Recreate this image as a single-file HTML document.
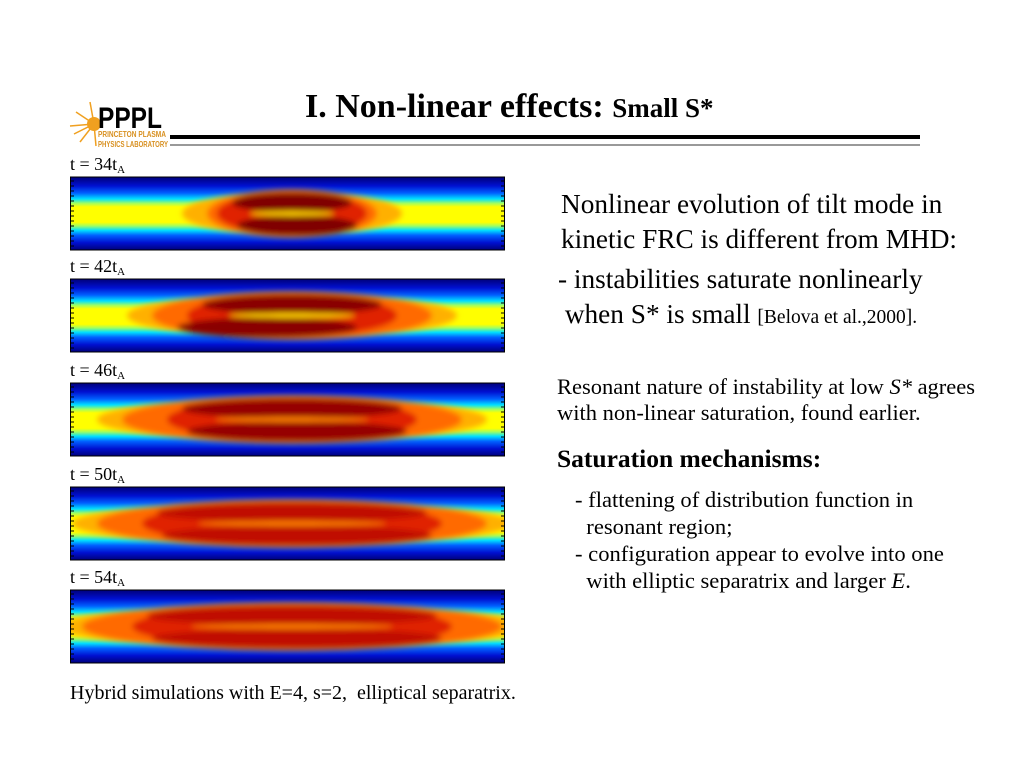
<!DOCTYPE html>
<html><head><meta charset="utf-8"><style>
body{margin:0;width:1024px;height:768px;background:#fff;overflow:hidden;position:relative;font-family:"Liberation Serif",serif;color:#000}
.t{position:absolute;white-space:nowrap}
</style></head><body>
<div class="t" style="left:68px;top:98px;width:102px;height:52px">
<svg width="102" height="52">
<g stroke="#f0a020" stroke-width="1.5"><line x1="26" y1="26" x2="2" y2="28"/><line x1="26" y1="26" x2="8" y2="14"/><line x1="26" y1="26" x2="12" y2="44"/><line x1="26" y1="26" x2="22" y2="4"/><line x1="26" y1="26" x2="28" y2="48"/><line x1="26" y1="26" x2="6" y2="36"/></g>
<circle cx="26" cy="26" r="7" fill="#f0a020"/>
<text x="30" y="30" font-family="Liberation Sans" font-weight="bold" font-size="30" fill="#000" textLength="64" lengthAdjust="spacingAndGlyphs">PPPL</text>
<text x="30" y="39" font-family="Liberation Sans" font-weight="bold" font-size="8" fill="#d89020" textLength="68" lengthAdjust="spacingAndGlyphs">PRINCETON PLASMA</text>
<text x="30" y="49" font-family="Liberation Sans" font-weight="bold" font-size="8" fill="#d89020" textLength="70" lengthAdjust="spacingAndGlyphs">PHYSICS LABORATORY</text>
</svg></div>
<div class="t" style="left:305px;top:88px;font-size:34px;font-weight:bold">I. Non-linear effects: <span style="font-size:27px">Small S*</span></div>
<div style="position:absolute;left:170px;top:135px;width:750px;height:4px;background:#000"></div>
<div style="position:absolute;left:170px;top:144px;width:750px;height:2px;background:#999"></div>

<svg id="plots" width="1024" height="768" style="position:absolute;left:0;top:0">
<defs>
<linearGradient id="bg" x1="0" y1="0" x2="0" y2="1">
<stop offset="0" stop-color="#00007a"/><stop offset="0.12" stop-color="#0010d0"/><stop offset="0.22" stop-color="#0060ff"/><stop offset="0.3" stop-color="#00e0ff"/><stop offset="0.36" stop-color="#a0ff60"/><stop offset="0.41" stop-color="#ffff00"/><stop offset="0.62" stop-color="#ffff00"/><stop offset="0.67" stop-color="#a0ff60"/><stop offset="0.73" stop-color="#00e0ff"/><stop offset="0.8" stop-color="#0060ff"/><stop offset="0.9" stop-color="#0010d0"/><stop offset="1" stop-color="#00007a"/>
</linearGradient>
<filter id="bl" x="-20%" y="-50%" width="140%" height="200%"><feGaussianBlur stdDeviation="3"/></filter>
<clipPath id="pc"><rect x="70" y="0" width="435" height="768"/></clipPath>
</defs>
</svg>

<div class="t" style="left:561px;top:187px;font-size:27.3px;line-height:35px">Nonlinear evolution of tilt mode in<br>kinetic FRC is different from MHD:</div>
<div class="t" style="left:558px;top:262px;font-size:27.3px;line-height:35px">- instabilities saturate nonlinearly<br>&nbsp;when S* is small <span style="font-size:19.5px">[Belova et al.,2000].</span></div>
<div class="t" style="left:557px;top:374px;font-size:22.5px;line-height:26px">Resonant nature of instability at low <i>S*</i> agrees<br>with non-linear saturation, found earlier.</div>
<div class="t" style="left:557px;top:444px;font-size:25.5px;font-weight:bold">Saturation mechanisms:</div>
<div class="t" style="left:575px;top:486px;font-size:22.6px;line-height:27px">- flattening of distribution function in<br>&nbsp;&nbsp;resonant region;<br>- configuration appear to evolve into one<br>&nbsp;&nbsp;with elliptic separatrix and larger <i>E</i>.</div>
<div class="t" style="left:70px;top:682px;font-size:20px">Hybrid simulations with E=4, s=2,&nbsp; elliptical separatrix.</div>

<script>
const times = [34, 42, 46, 50, 54];
const panelTops = [177, 279, 383, 487, 590];
// plasma core half-width (px) per panel
const coreWidths = [85, 140, 170, 195, 210];
// red lobe half-width per panel
const lobeWidths = [60, 90, 110, 135, 145];
// lobe darkness per panel
const lobeColors = ['#800000', '#8a0000', '#960000', '#c01000', '#c01000'];
const ns = 'http://www.w3.org/2000/svg';
const svg = document.getElementById('plots');
const X0 = 70, W = 435, H = 73;
function mk(tag, attrs, parent){const e=document.createElementNS(ns,tag);for(const k in attrs)e.setAttribute(k,attrs[k]);(parent||svg).appendChild(e);return e;}
times.forEach((t,i)=>{
  const y = panelTops[i];
  const g = mk('g',{'clip-path':'url(#pc)'});
  
  
  mk('rect',{x:X0,y:y,width:W,height:H,fill:'url(#bg)'},g);
  const cx = X0 + 222, cy = y + H/2;
  const f = mk('g',{filter:'url(#bl)'},g);
  mk('ellipse',{cx:cx,cy:cy,rx:coreWidths[i]+25,ry:22,fill:'#ffb000'},f);
  mk('ellipse',{cx:cx,cy:cy,rx:coreWidths[i],ry:24,fill:'#ff6a00'},f);
  mk('ellipse',{cx:cx,cy:cy,rx:lobeWidths[i]+15,ry:21,fill:'#e02000'},f);
  mk('ellipse',{cx:cx,cy:cy-11,rx:lobeWidths[i],ry:10,fill:lobeColors[i]},f);
  mk('ellipse',{cx:cx+(i==1?-25:5),cy:cy+12,rx:lobeWidths[i],ry:10,fill:lobeColors[i]},f);
  mk('ellipse',{cx:cx,cy:cy,rx:lobeWidths[i]*0.7,ry:2.5,fill:i<2?'#ffd000':'#ff8000'},f);
  mk('rect',{x:X0+0.5,y:y,width:W-1,height:H,fill:'none',stroke:'#000','stroke-width':1},g);
  for(let k=0;k<14;k++){const ty=y+4+k*5;mk('line',{x1:X0,y1:ty,x2:X0+4,y2:ty,stroke:'#000'},g);mk('line',{x1:X0+W-4,y1:ty,x2:X0+W,y2:ty,stroke:'#000'},g);}
  const lab = mk('text',{x:70,y:y-7,'font-family':'Liberation Serif','font-size':'18'});
  
  
  lab.textContent='t = '+t+'t';
  const sub = mk('tspan',{'font-size':'11',dy:'3'},lab); sub.textContent='A';
});
</script>
</body></html>
